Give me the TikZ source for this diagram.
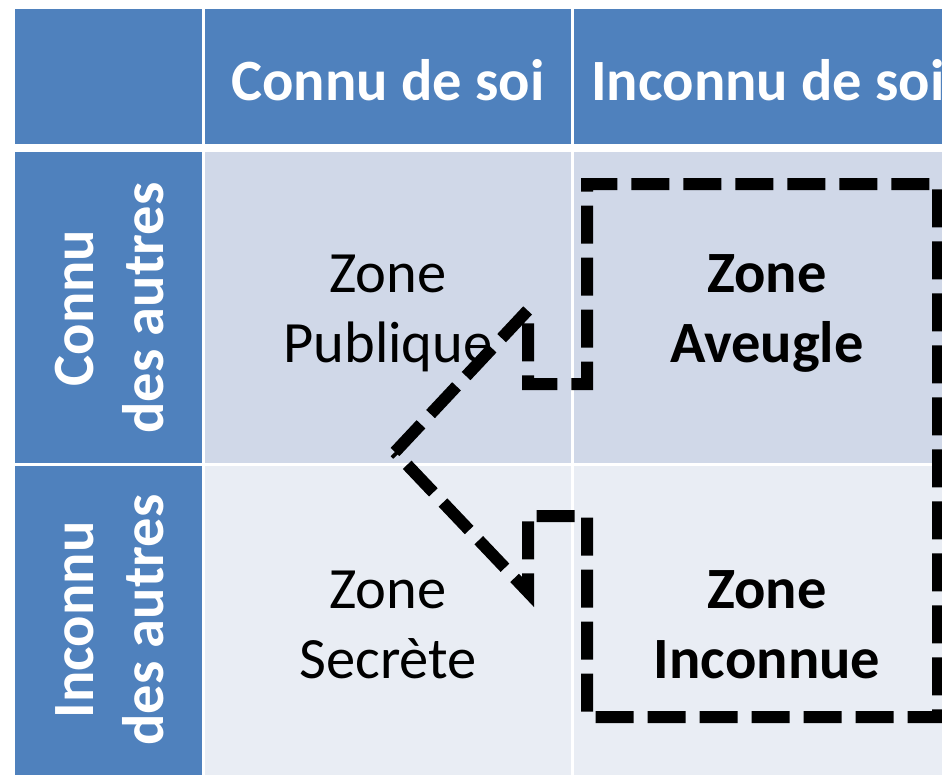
\documentclass[tikz,border=0pt]{standalone}
\usepackage{fontspec}
\setmainfont{Carlito}
\definecolor{headblue}{HTML}{4F81BD}
\definecolor{rowdark}{HTML}{D0D8E8}
\definecolor{rowlight}{HTML}{E9EDF4}
\tikzset{
  head/.style={text=white, font=\bfseries\fontsize{58.5}{70}\selectfont, anchor=base},
  zone/.style={font=\fontsize{58.5}{70}\selectfont, anchor=base},
  zonebold/.style={font=\bfseries\fontsize{58.5}{70}\selectfont, anchor=base},
  side/.style={head, rotate=90},
  border/.style={line width=12pt, dash pattern=on 38pt off 14pt}
}

\begin{document}
\begin{tikzpicture}[x=1pt, y=-1pt]
        \useasboundingbox (0, 0) rectangle (942, 774);
        \clip (0, 0) rectangle (942, 774);
        % header row
        \fill[headblue] (15, 9) rectangle (202, 144);
        \fill[headblue] (205, 9) rectangle (571, 144);
        \fill[headblue] (574, 9) rectangle (962, 144);
        % row headers
        \fill[headblue] (15, 152) rectangle (202, 463);
        \fill[headblue] (15, 466) rectangle (202, 780);
        % body
        \fill[rowdark] (205, 152) rectangle (571, 463);
        \fill[rowdark] (574, 152) rectangle (962, 463);
        \fill[rowlight] (205, 466) rectangle (571, 780);
        \fill[rowlight] (574, 466) rectangle (962, 780);
        \node[head] (soi) at (388, 100) {Connu de soi};
        \node[head] (nonsoi) at (768, 100) {Inconnu de soi};
        \node[side] (autres1) at (93, 308) {Connu};
        \node[side] (autres2) at (163, 308) {des autres};
        \node[side] (nonautres1) at (93, 620) {Inconnu};
        \node[side] (nonautres2) at (163, 620) {des autres};
        \node[zone] (pub1) at (388, 292) {Zone};
        \node[zone] (pub2) at (388, 362) {Publique};
        \node[zone] (sec1) at (388, 608) {Zone};
        \node[zone] (sec2) at (388, 678) {Secrète};
        \node[zonebold] (aveu1) at (767, 292) {Zone};
        \node[zonebold] (aveu2) at (767, 362) {Aveugle};
        \node[zonebold] (inc1) at (767, 608) {Zone};
        \node[zonebold] (inc2) at (767, 678) {Inconnue};
        % arrow shaped frame
        \coordinate (tip) at (395, 452);
        \coordinate (headup) at (528, 310);
        \coordinate (headdown) at (528, 592);
        \draw[border] (tip) -- (headup) -- (528, 384) -- (587, 384) -- (587, 184)
                -- (938, 184) -- (938, 717) -- (587, 717) -- (587, 516)
                -- (528, 516) -- (headdown) -- cycle;
\end{tikzpicture}
\end{document}
